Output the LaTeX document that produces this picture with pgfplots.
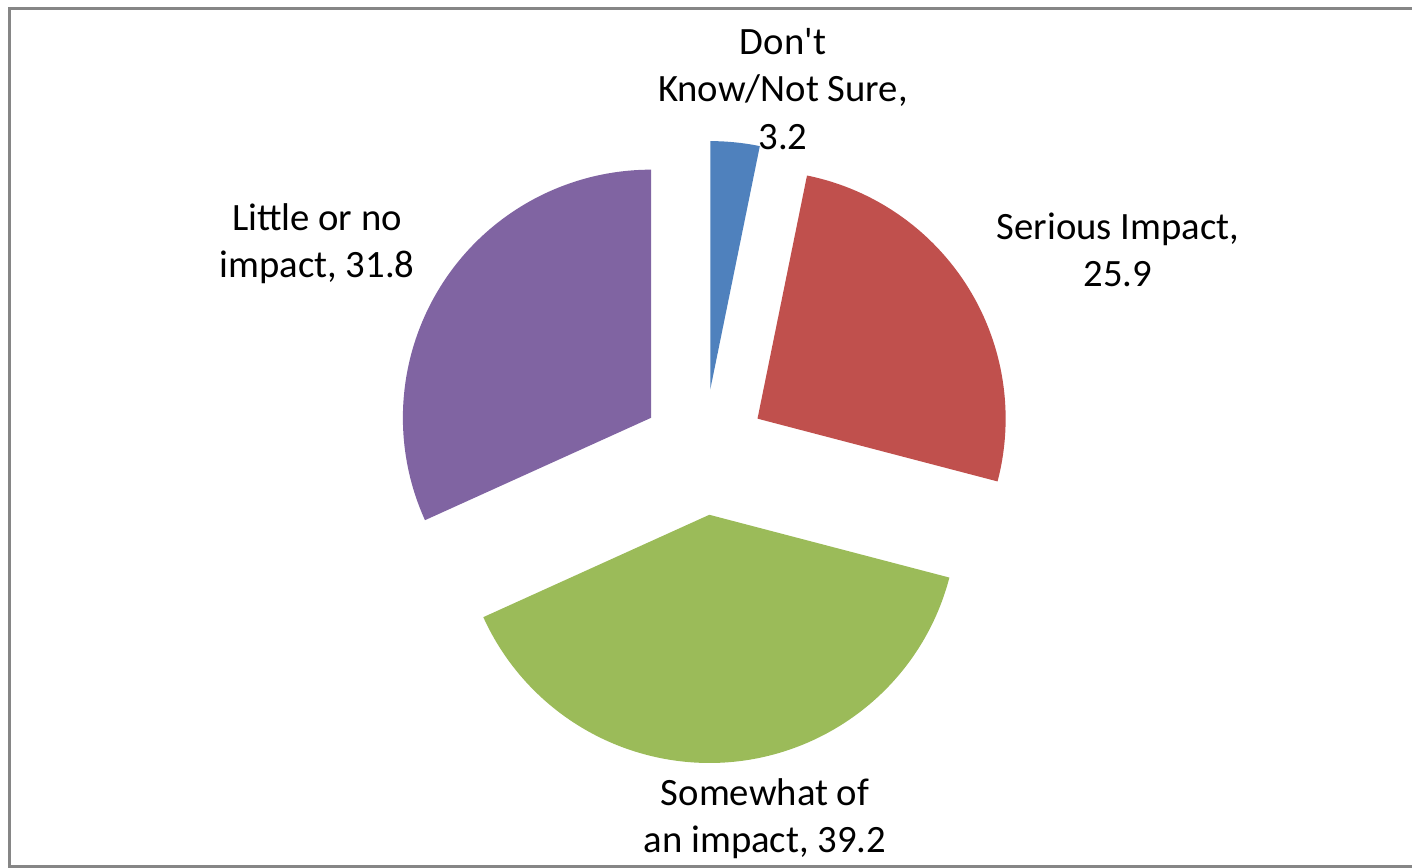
\documentclass[border=0pt]{standalone}
\usepackage{pgfplots}
\pgfplotsset{compat=1.18}
\usetikzlibrary{calc}
\usepackage{fontspec}
\setmainfont{Carlito}

\definecolor{cDK}{HTML}{4F81BD}
\definecolor{cSI}{HTML}{C0504D}
\definecolor{cSW}{HTML}{9BBB59}
\definecolor{cLI}{HTML}{8064A2}
\definecolor{frame}{HTML}{868686}

% slice values
\def\vDK{3.2}
\def\vSI{25.9}
\def\vSW{39.2}
\def\vLI{31.8}

\pgfmathsetmacro\total{\vDK+\vSI+\vSW+\vLI}
\pgfmathsetmacro\aA{90}
\pgfmathsetmacro\aB{\aA-\vDK/\total*360}
\pgfmathsetmacro\aC{\aB-\vSI/\total*360}
\pgfmathsetmacro\aD{\aC-\vSW/\total*360}
\pgfmathsetmacro\aE{\aD-\vLI/\total*360}

% color, start, end -- exploded by 0.63cm along the mid angle
\newcommand\slice[3]{%
  \pgfmathsetmacro\mid{(#2+#3)/2}%
  \edef\temp{\noexpand\fill[#1] ($(axis cs:704,416)+(\mid:0.63cm)$) -- ++(#2:2.48cm)
    arc[start angle=#2, end angle=#3, radius=2.48cm] -- cycle;}%
  \temp
}

\tikzset{lbl/.style={font=\fontsize{11}{13.4}\selectfont, align=center, inner sep=0pt}}

\begin{document}
\begin{tikzpicture}
\begin{axis}[
    x=0.01cm, y=0.01cm,
    xmin=0, xmax=1412, ymin=0, ymax=868,
    hide axis, clip=false,
  ]
  \slice{cDK}{\aA}{\aB}
  \slice{cSI}{\aB}{\aC}
  \slice{cSW}{\aC}{\aD}
  \slice{cLI}{\aD}{\aE}

  \node[lbl] at (axis cs:783,779) {Don\textquotesingle t\\Know/Not Sure,\\3.2};
  \node[lbl] at (axis cs:1118,618) {Serious Impact,\\25.9};
  \node[lbl] at (axis cs:317,624) {Little or no\\impact, 31.8};
  \node[lbl] at (axis cs:765,49) {Somewhat of\\an impact, 39.2};

  \draw[frame, line width=0.03cm] (axis cs:1430,859.5) -- (axis cs:9.5,859.5)
    -- (axis cs:9.5,1.5) -- (axis cs:1430,1.5);

  \coordinate (BL) at (axis cs:0,0);
  \coordinate (TR) at (axis cs:1412,868);
\end{axis}
\pgfresetboundingbox
\path (BL) rectangle (TR);
\end{tikzpicture}
\end{document}
